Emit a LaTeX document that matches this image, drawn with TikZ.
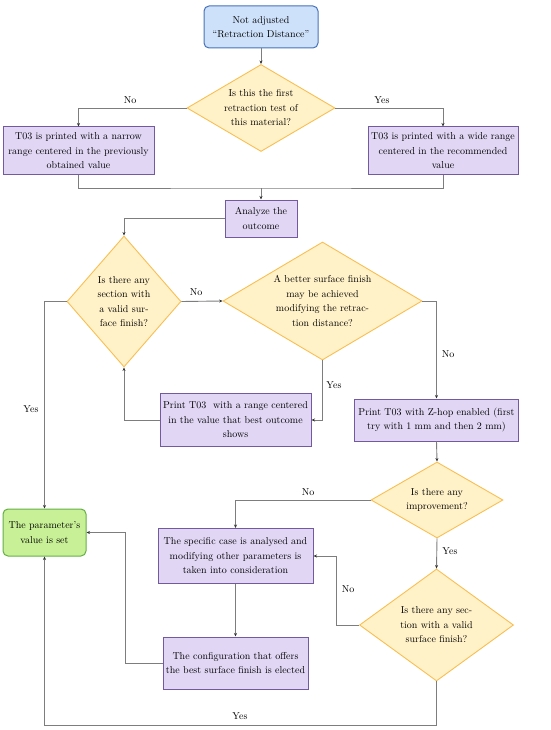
\documentclass[tikz,border=0pt]{standalone}
\usepackage{mathpazo}
\usetikzlibrary{shapes.geometric,arrows.meta}
\definecolor{bluefill}{RGB}{206,225,250}
\definecolor{blueline}{RGB}{70,115,185}
\definecolor{greenfill}{RGB}{200,240,150}
\definecolor{greenline}{RGB}{100,175,70}
\definecolor{purpfill}{RGB}{225,215,245}
\definecolor{purpline}{RGB}{115,90,160}
\definecolor{diafill}{RGB}{255,242,200}
\definecolor{dialine}{RGB}{250,190,80}
\definecolor{conn}{RGB}{125,125,125}
\tikzset{
  txt/.style={font=\fontsize{10}{14.5}\selectfont, align=center, inner sep=0pt},
  startbox/.style={draw=blueline, fill=bluefill, line width=1pt, rounded corners=5pt, inner sep=0pt, txt},
  endbox/.style={draw=greenline, fill=greenfill, line width=1pt, rounded corners=5pt, inner sep=0pt, txt},
  procbox/.style={draw=purpline, fill=purpfill, line width=1pt, inner sep=0pt, txt},
  dia/.style={diamond, draw=dialine, fill=diafill, line width=0.9pt, inner sep=0pt},
  conline/.style={draw=conn, line width=0.9pt},
  arr/.style={conline, -{Stealth[length=3.5pt,width=3pt,color=black!80]}},
  lab/.style={font=\fontsize{10}{12}\selectfont, inner sep=0pt}
}
\begin{document}
\begin{tikzpicture}[x=1pt,y=-1pt]
\useasboundingbox (0,0) rectangle (550,730);
% nodes
\node[startbox, minimum width=114pt, minimum height=42pt] (st) at (261,27) {Not adjusted\\``Retraction Distance''};
\node[dia, minimum width=148pt, minimum height=87pt] (d1) at (261,108) {};
\node[txt] at (d1) {Is this the first\\retraction test of\\this material?};
\node[procbox, minimum width=151pt, minimum height=48pt] (bL) at (78.5,151) {T03 is printed with a narrow\\range centered in the previously\\obtained value};
\node[procbox, minimum width=150pt, minimum height=48pt] (bR) at (443,151) {T03 is printed with a wide range\\centered in the recommended\\value};
\node[procbox, minimum width=72pt, minimum height=37pt] (an) at (261,218.5) {Analyze the\\outcome};
\node[dia, minimum width=114pt, minimum height=131pt] (d2) at (124,301.5) {};
\node[txt] at (d2) {Is there any\\section with\\a valid sur-\\face finish?};
\node[dia, minimum width=199pt, minimum height=118pt] (d3) at (322.5,301) {};
\node[txt] at (d3) {A better surface finish\\may be achieved\\modifying the retrac-\\tion distance?};
\node[procbox, minimum width=151pt, minimum height=53pt] (pr) at (235.5,420) {Print T03\ \ with a range centered\\in the value that best outcome\\shows};
\node[procbox, minimum width=164pt, minimum height=42pt] (zh) at (436.5,420) {Print T03 with Z-hop enabled (first\\try with 1 mm and then 2 mm)};
\node[dia, minimum width=132pt, minimum height=76pt] (d4) at (437,500) {};
\node[txt] at (d4) {Is there any\\improvement?};
\node[procbox, minimum width=155pt, minimum height=55pt] (sp) at (235.5,556) {The specific case is analysed and\\modifying other parameters is\\taken into consideration};
\node[dia, minimum width=154pt, minimum height=112pt] (d5) at (436.5,625) {};
\node[txt] at (d5) {Is there any sec-\\tion with a valid\\surface finish?};
\node[procbox, minimum width=145pt, minimum height=52pt] (cf) at (235.5,663) {The configuration that offers\\the best surface finish is elected};
\node[endbox, minimum width=83pt, minimum height=47pt] (gr) at (44.5,532.5) {The parameter's\\value is set};
% connectors
\draw[arr] (st.south) -- (d1.north);
\draw[arr] (d1.west) -| (bL.north);
\draw[arr] (d1.east) -| (bR.north);
\node[lab] (l1) at (130,100) {No};
\node[lab] (l2) at (382,100) {Yes};
\coordinate (mj) at (261,188);
\draw[conline] (bL.south) |- (mj) -| (bR.south);
\draw[arr] (mj) -- (an.north);
\draw[arr] (an.west) -| (d2.north);
\draw[arr] (d2.east) -- (d3.west);
\node[lab] (l3) at (196,292) {No};
\draw[arr] (d3.east) -| (zh.north);
\node[lab] (l4) at (448,354) {No};
\draw[arr] (d3.south) |- (pr.east);
\node[lab] (l5) at (334,385) {Yes};
\draw[arr] (pr.west) -| (d2.south);
\draw[arr] (zh.south) -- (d4.north);
\draw[arr] (d4.west) -| (sp.north);
\node[lab] (l6) at (308,492) {No};
\draw[arr] (d4.south) -- (d5.north);
\node[lab] (l7) at (450,551) {Yes};
\coordinate (c5) at (336,625);
\draw[arr] (d5.west) -- (c5) |- (sp.east);
\node[lab] (l8) at (348,589) {No};
\draw[arr] (sp.south) -- (cf.north);
\coordinate (c6) at (125,663);
\draw[arr] (cf.west) -- (c6) |- (gr.east);
\draw[arr] (d2.west) -| (gr.north);
\node[lab] (l9) at (31,409) {Yes};
\coordinate (c7) at (436.5,725);
\draw[arr] (d5.south) -- (c7) -| (gr.south);
\node[lab] (l10) at (240,716) {Yes};
\end{tikzpicture}
\end{document}
